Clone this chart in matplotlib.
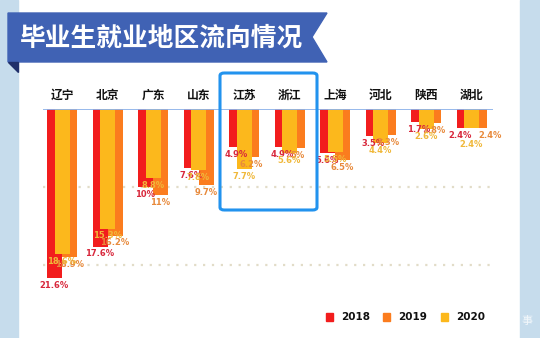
import matplotlib.pyplot as plt
from matplotlib.patches import Rectangle, Polygon, FancyBboxPatch

plt.rcParams['font.family'] = ['Noto Sans CJK SC', 'DejaVu Sans']

# data
regions = ["辽宁", "北京", "广东", "山东", "江苏", "浙江", "上海", "河北", "陕西", "湖北"]
y2018 = [21.6, 17.6, 10, 7.6, 4.9, 4.9, 5.6, 3.5, 1.7, 2.4]
y2019 = [18.9, 16.2, 11, 9.7, 6.2, 5.0, 6.5, 3.3, 1.8, 2.4]
y2020 = [18.6, 15.3, 8.8, 7.8, 7.7, 5.6, 5.5, 4.4, 2.6, 2.4]
years = ["2018", "2019", "2020"]

W, H = 540, 338
c_red, c_orange, c_yellow = "#f21d1d", "#fb7c1e", "#fcb81c"
c_red_t, c_orange_t, c_yellow_t = "#d8283c", "#e88a3c", "#f0b83a"


def fx(x):
    return x / W


def fy(y):
    return 1 - y / H


fig = plt.figure(figsize=(W / 100, H / 100), dpi=100)
fig.patch.set_facecolor("white")

# side strips
fig.patches.append(Rectangle((0, 0), fx(18), 1, transform=fig.transFigure,
                             color="#c6dcec", zorder=0))
fig.patches.append(Rectangle((fx(520), 0), 1 - fx(520), 1, transform=fig.transFigure,
                             color="#c6dcec", zorder=0))
fig.text(fx(527), fy(321), "事", color="white", fontsize=8, ha="center", va="center",
         alpha=0.8)

# title ribbon
ribbon = [(8, 13), (327, 13), (312, 37), (327, 62), (8, 62)]
fig.patches.append(Polygon([(fx(x), fy(y)) for x, y in ribbon], closed=True,
                           transform=fig.transFigure, color="#4062b4", zorder=1))
fold = [(8, 62), (18, 62), (18, 72)]
fig.patches.append(Polygon([(fx(x), fy(y)) for x, y in fold], closed=True,
                           transform=fig.transFigure, color="#1f2f6a", zorder=1))
fig.text(fx(20), fy(38), "毕业生就业地区流向情况", color="white", fontsize=18.5,
         fontweight="bold", ha="left", va="center", zorder=2)

# main axes: baseline at y=109 px, 7.82 px per percent
top_px, bot_px = 109, 300
left_px, right_px = 43, 493
x0_px, step_px = 62, 45.5
ax = fig.add_axes([fx(left_px), fy(bot_px), (right_px - left_px) / W, (bot_px - top_px) / H])
ax.set_xlim((left_px - x0_px) / step_px, (right_px - x0_px) / step_px)
ax.set_ylim((bot_px - top_px) / 7.82, 0)
ax.axis("off")

bw = 15 / step_px
off = 7.5 / step_px
xs = list(range(len(regions)))

ax.bar([x - off for x in xs], y2018, width=bw, align="center", color=c_red, zorder=2)
ax.bar([x + off for x in xs], y2019, width=bw, align="center", color=c_orange, zorder=2)
ax.bar(xs, y2020, width=bw, align="center", color=c_yellow, zorder=3)

# value labels under each bar end; spread them when the three values are equal
for i, (vals, dx, col) in enumerate([(y2018, -off, c_red_t), (y2019, off, c_orange_t),
                                     (y2020, 0, c_yellow_t)]):
    for x, v in zip(xs, vals):
        nx, ny = 0, -2
        if y2018[x] == y2019[x] == y2020[x]:
            nx, ny = [(-3, -2), (8, -2), (0, -9)][i]
        ax.annotate(f"{v:g}%", (x + dx, v), xytext=(nx, ny), textcoords="offset points",
                    ha="center", va="top", fontsize=6, fontweight="bold", color=col,
                    family="DejaVu Sans", zorder=5, annotation_clip=False)

for x, name in zip(xs, regions):
    ax.text(x, -12 / 7.82 * 1.15, name, ha="center", va="center", fontsize=8.5,
            fontweight="bold", color="#111111", clip_on=False)

ax.axhline(0, color="#8db3ea", lw=1.3, zorder=4)
for g in [10, 20]:
    ax.axhline(g, color="#e2dcc8", lw=1.6, ls=(0, (1, 3)), zorder=1)

# highlight box around 江苏 / 浙江
fig.patches.append(FancyBboxPatch((fx(220), fy(210)), fx(317) - fx(220), fy(73) - fy(210),
                                  boxstyle="round,pad=0,rounding_size=0.008",
                                  transform=fig.transFigure, fill=False,
                                  edgecolor="#2293ee", lw=2.2, zorder=6))

# legend
for sx, col, lab in [(326, c_red, years[0]), (383, c_orange, years[1]), (441, c_yellow, years[2])]:
    fig.patches.append(Rectangle((fx(sx), fy(321)), 7 / W, 8 / H, transform=fig.transFigure,
                                 color=col, zorder=3))
    fig.text(fx(sx + 15), fy(317), lab, fontsize=7.5, fontweight="bold", color="#111111",
             ha="left", va="center", family="DejaVu Sans")

fig.savefig("out.png", dpi=100)
